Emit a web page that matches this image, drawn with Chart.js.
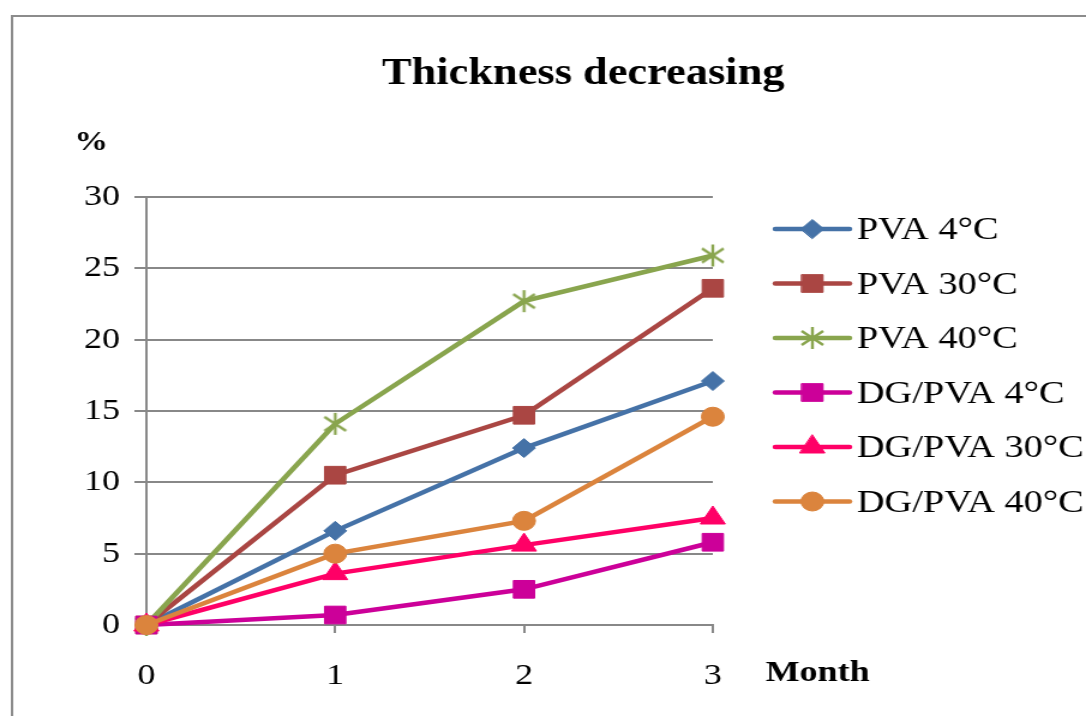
<!DOCTYPE html>
<html>
<head>
<meta charset="utf-8">
<title>Thickness decreasing</title>
<script src="https://cdn.jsdelivr.net/npm/chart.js@4/dist/chart.umd.min.js"></script>
<style>
  html, body { margin: 0; padding: 0; background: #ffffff; overflow: hidden; }
  #wrap { width: 905px; height: 716px; transform: scaleX(1.2); transform-origin: 0 0; }
  canvas { display: block; }
</style>
</head>
<body>
<div id="wrap"><canvas id="chart" width="905" height="716"></canvas></div>
<script>
// Months of storage
const months = ['0', '1', '2', '3'];

// Thickness decrease (%) per film and storage temperature
const pva4 = [0, 6.6, 12.4, 17.1];
const pva30 = [0, 10.5, 14.7, 23.6];
const pva40 = [0, 14.1, 22.7, 25.9];
const dgPva4 = [0, 0.7, 2.5, 5.8];
const dgPva30 = [0, 3.6, 5.6, 7.5];
const dgPva40 = [0, 5.0, 7.3, 14.6];

const seriesNames = ['PVA 4°C', 'PVA 30°C', 'PVA 40°C', 'DG/PVA 4°C', 'DG/PVA 30°C', 'DG/PVA 40°C'];
const yTicks = [0, 5, 10, 15, 20, 25, 30];

const FONT = "'Liberation Serif', 'Times New Roman', serif";
const GRID = '#888888';

// Asterisk marker: vertical stroke plus two diagonals
function asterisk(color) {
  const c = document.createElement('canvas');
  c.width = 22; c.height = 24;
  const g = c.getContext('2d');
  g.strokeStyle = color;
  g.lineWidth = 2.4;
  g.lineCap = 'butt';
  g.beginPath();
  g.moveTo(11, 1); g.lineTo(11, 23);
  g.moveTo(2, 5); g.lineTo(20, 19);
  g.moveTo(20, 5); g.lineTo(2, 19);
  g.stroke();
  return c;
}

const styles = [
  { color: '#4572A7', pointStyle: 'rectRot', radius: 9.5 },
  { color: '#AA4643', pointStyle: 'rect', radius: 12.5 },
  { color: '#89A54E', pointStyle: asterisk('#89A54E'), radius: 11 },
  { color: '#CC0099', pointStyle: 'rect', radius: 12.5 },
  { color: '#FF0066', pointStyle: 'triangle', radius: 12 },
  { color: '#DB843D', pointStyle: 'circle', radius: 9.5 }
];

const values = [pva4, pva30, pva40, dgPva4, dgPva30, dgPva40];

// later series are painted over earlier ones
const datasets = values.map((v, i) => ({
  label: seriesNames[i],
  data: v,
  order: values.length - i,
  borderColor: styles[i].color,
  backgroundColor: styles[i].color,
  pointBackgroundColor: styles[i].color,
  pointBorderColor: styles[i].color,
  pointBorderWidth: 1,
  pointStyle: styles[i].pointStyle,
  pointRadius: styles[i].radius,
  pointHoverRadius: styles[i].radius,
  borderWidth: 4.5,
  tension: 0,
  clip: false
}));

// Draw frame, title, axis captions and the legend column
const decorations = {
  id: 'decorations',
  beforeDraw(chart) {
    const ctx = chart.ctx;
    ctx.save();
    ctx.fillStyle = '#ffffff';
    ctx.fillRect(0, 0, chart.width, chart.height);
    ctx.strokeStyle = '#8c8c8c';
    ctx.lineWidth = 2;
    ctx.strokeRect(10, 16, chart.width + 20, chart.height + 20);
    ctx.restore();
  },
  afterDraw(chart) {
    const ctx = chart.ctx;
    ctx.save();
    ctx.fillStyle = '#000000';
    ctx.textBaseline = 'alphabetic';

    ctx.font = 'bold 37px ' + FONT;
    ctx.textAlign = 'center';
    ctx.fillText('Thickness decreasing', 486, 84);

    ctx.font = 'bold 28px ' + FONT;
    ctx.textAlign = 'left';
    ctx.fillText('%', 62, 150);

    ctx.font = 'bold 30px ' + FONT;
    ctx.fillText('Month', 638, 681);

    // legend entries
    const lx0 = 646, lx1 = 708, mx = 677, tx = 714;
    ctx.font = '32px ' + FONT;
    ctx.textBaseline = 'middle';
    chart.data.datasets.forEach((ds, i) => {
      const y = 229 + i * 54.5;
      ctx.strokeStyle = ds.borderColor;
      ctx.lineWidth = 4.5;
      ctx.lineCap = 'round';
      ctx.beginPath();
      ctx.moveTo(lx0, y);
      ctx.lineTo(lx1, y);
      ctx.stroke();
      ctx.fillStyle = ds.pointBackgroundColor;
      ctx.strokeStyle = ds.pointBorderColor;
      ctx.lineWidth = 1;
      Chart.helpers.drawPoint(ctx, {
        pointStyle: ds.pointStyle,
        radius: ds.pointRadius,
        rotation: 0,
        borderWidth: 1
      }, mx, y);
      ctx.fillStyle = '#000000';
      ctx.fillText(ds.label, tx, y + 2);
    });
    ctx.restore();
  }
};

new Chart(document.getElementById('chart'), {
  type: 'line',
  data: { labels: months, datasets },
  options: {
    responsive: false,
    animation: false,
    devicePixelRatio: 1,
    layout: { padding: { left: 0, right: 311, top: 197, bottom: 0 } },
    plugins: {
      legend: { display: false },
      title: { display: false },
      tooltip: { enabled: false }
    },
    scales: {
      x: {
        type: 'category',
        offset: false,
        afterFit(scale) { scale.height = 91; },
        grid: {
          drawOnChartArea: false,
          drawTicks: true,
          tickLength: 8,
          color: GRID,
          lineWidth: 2
        },
        border: { display: true, color: GRID, width: 2 },
        ticks: {
          color: '#000000',
          font: { family: FONT, size: 30 },
          padding: 25,
          maxRotation: 0
        }
      },
      y: {
        min: 0,
        max: 30,
        afterFit(scale) { scale.width = 122; },
        afterBuildTicks(scale) { scale.ticks = yTicks.map(v => ({ value: v })); },
        grid: {
          drawTicks: true,
          tickLength: 10,
          color: GRID,
          lineWidth: 2
        },
        border: { display: true, color: GRID, width: 2 },
        ticks: {
          color: '#000000',
          font: { family: FONT, size: 30 },
          padding: 12
        }
      }
    }
  },
  plugins: [decorations]
});
</script>
</body>
</html>
